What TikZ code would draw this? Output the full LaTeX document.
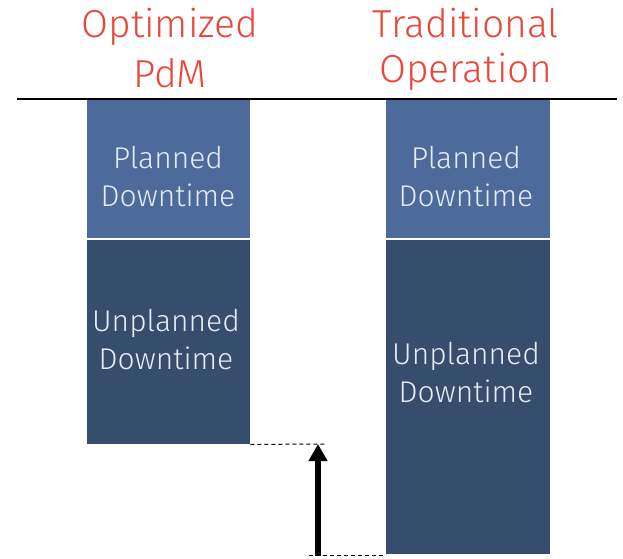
\documentclass[tikz,border=0pt]{standalone}
\usepackage{fontspec}
\setmainfont{Fira Sans Light}
\usetikzlibrary{arrows.meta}
\definecolor{titlered}{HTML}{E8473A}
\definecolor{plannedblue}{HTML}{4C6B9A}
\definecolor{unplannedblue}{HTML}{374D6E}
\definecolor{barlabel}{HTML}{E6ECF4}
\tikzset{
  bar/.style={draw=none, inner sep=0pt, anchor=north west},
  barlabel/.style={text=barlabel, font=\fontsize{30}{38}\selectfont, align=center},
  title/.style={text=titlered, align=center},
  guide/.style={line width=1pt, dash pattern=on 4pt off 3pt},
}
\begin{document}
\begin{tikzpicture}[x=1pt,y=-1pt]
  \useasboundingbox (0,0) rectangle (623,558);
  % baseline rule
  \draw[line width=1.2pt] (17,99) -- (617,99);
  % headers
  \node[title, font=\fontsize{39}{50}\selectfont] (hpdm) at (170,48) {Optimized\\PdM};
  \node[title, font=\fontsize{39}{45}\selectfont] (htrad) at (466,49) {Traditional\\Operation};
  % optimized PdM column
  \node[bar, fill=plannedblue, minimum width=163pt, minimum height=138pt] (p1) at (87,100) {};
  \node[bar, fill=unplannedblue, minimum width=163pt, minimum height=204pt] (u1) at (87,240) {};
  % traditional column
  \node[bar, fill=plannedblue, minimum width=164pt, minimum height=138pt] (p2) at (386,100) {};
  \node[bar, fill=unplannedblue, minimum width=164pt, minimum height=314pt] (u2) at (386,240) {};
  % bar labels
  \node[barlabel] (lp1) at (168,177) {Planned\\Downtime};
  \node[barlabel] (lu1) at (166,340) {Unplanned\\Downtime};
  \node[barlabel] (lp2) at (466,177) {Planned\\Downtime};
  \node[barlabel] (lu2) at (466,373) {Unplanned\\Downtime};
  % reduction marker
  \coordinate (topend) at (327,444);
  \coordinate (botstart) at (309,555);
  \coordinate (arrowtop) at (318,444);
  \coordinate (arrowbot) at (318,556);
  \draw[guide] (u1.south east) -- (topend);
  \draw[guide] (botstart) -- (u2.south west |- botstart);
  \draw[line width=6pt, -{Triangle[width=18pt,length=17pt]}] (arrowbot) -- (arrowtop);
\end{tikzpicture}
\end{document}
